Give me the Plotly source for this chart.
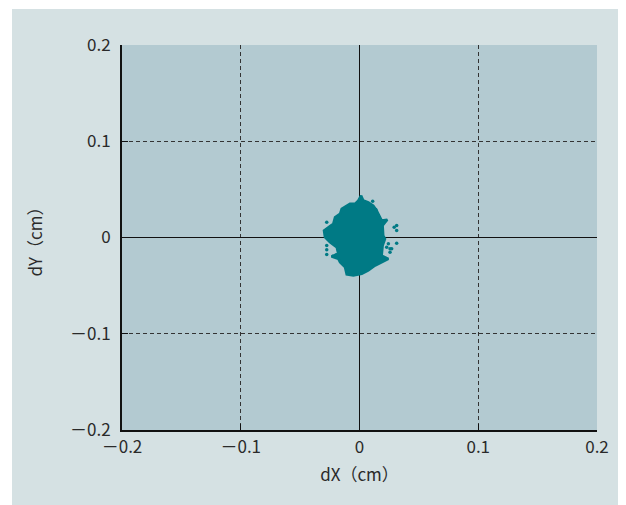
import plotly.graph_objects as go

# Outline of the dense cloud of points (cm)
blob_x = [0.0013, 0.0032, 0.0074, 0.0116, 0.0145, 0.0167, 0.0187, 0.0234, 0.0195, 0.0200,
          0.0215, 0.0195, 0.0187, 0.0243, 0.0187, 0.0131, 0.0074, 0.0019, -0.0052, -0.0108,
          -0.0122, -0.0164, -0.0179, -0.0234, -0.0179, -0.0192, -0.0248, -0.0291, -0.0299, -0.0263,
          -0.0221, -0.0206, -0.0164, -0.0150, -0.0108, -0.0080, -0.0038, -0.0010]
blob_y = [0.0436, 0.0384, 0.0366, 0.0332, 0.0280, 0.0228, 0.0176, 0.0184, 0.0125, 0.0021,
          -0.0013, -0.0083, -0.0187, -0.0221, -0.0256, -0.0291, -0.0342, -0.0377, -0.0394, -0.0384,
          -0.0308, -0.0256, -0.0221, -0.0197, -0.0169, -0.0101, -0.0049, 0.0003, 0.0073, 0.0107,
          0.0142, 0.0211, 0.0246, 0.0298, 0.0332, 0.0350, 0.0350, 0.0384]

# Isolated scattered points (cm)
pts_x = [-0.0276, -0.0276, -0.0276, -0.0276, -0.0206, 0.0313, 0.0313, 0.0313, 0.0271, 0.0257,
         0.0111, 0.0137, 0.0292, 0.0243, 0.0229, 0.0257, -0.0225, -0.0197]
pts_y = [0.0159, -0.0083, -0.0128, -0.0176, 0.0159, 0.0125, 0.0073, -0.0059, -0.0117, -0.0153,
         0.0377, 0.0290, 0.0106, -0.0066, -0.0100, -0.0117, -0.0194, -0.0183]

tick_vals = [-0.2, -0.1, 0, 0.1, 0.2]
tick_text = ["\uff0d0.2", "\uff0d0.1", "0", "0.1", "0.2"]

teal = "#007a85"
txt = "#2a2a2a"
font_family = "Noto Sans CJK JP"

fig = go.Figure()
fig.add_trace(go.Scatter(x=blob_x + blob_x[:1], y=blob_y + blob_y[:1], mode="lines",
                         fill="toself", fillcolor=teal, line=dict(color=teal, width=2.5),
                         hoverinfo="skip", showlegend=False))
fig.add_trace(go.Scatter(x=pts_x, y=pts_y, mode="markers",
                         marker=dict(color=teal, size=3.5), showlegend=False))

axis_common = dict(
    range=[-0.2, 0.2], tickvals=tick_vals, ticktext=tick_text,
    showgrid=True, gridcolor="#333333", griddash="4px,3px", gridwidth=1,
    zeroline=True, zerolinecolor="#111111", zerolinewidth=1.3,
    showline=True, linecolor="#111111", linewidth=2,
    ticks="inside", ticklen=6, tickcolor="#111111", tickwidth=1,
    tickfont=dict(family=font_family, size=17, color=txt),
    fixedrange=True,
)

fig.update_xaxes(**axis_common, ticklabelstandoff=1,
                 title=dict(text="dX（cm）", standoff=12,
                            font=dict(family=font_family, size=17, color=txt)))
fig.update_yaxes(**axis_common, ticklabelstandoff=6,
                 title=dict(text="dY（cm）", standoff=23,
                            font=dict(family=font_family, size=17, color=txt)))

# page has an 8px body margin; the figure is placed at (8, 8)
W, H = 618, 497
L, R, T, B = 114, 29, 37, 74.5
pw, ph = W - L - R, H - T - B
fig.update_layout(
    width=W, height=H,
    margin=dict(l=L, r=R, t=T, b=B, autoexpand=False),
    paper_bgcolor="white", plot_bgcolor="rgba(0,0,0,0)",
    shapes=[
        dict(type="rect", xref="paper", yref="paper", layer="below",
             x0=(4 - L) / pw, x1=(W + 10 - L) / pw, y0=-(B + 10) / ph, y1=(H - B - 1) / ph,
             fillcolor="#d5e1e3", line=dict(width=0)),
        dict(type="rect", xref="paper", yref="paper", layer="below",
             x0=0, x1=1, y0=0, y1=1, fillcolor="#b3cad1", line=dict(width=0)),
    ],
)

fig.write_html("out.html")
